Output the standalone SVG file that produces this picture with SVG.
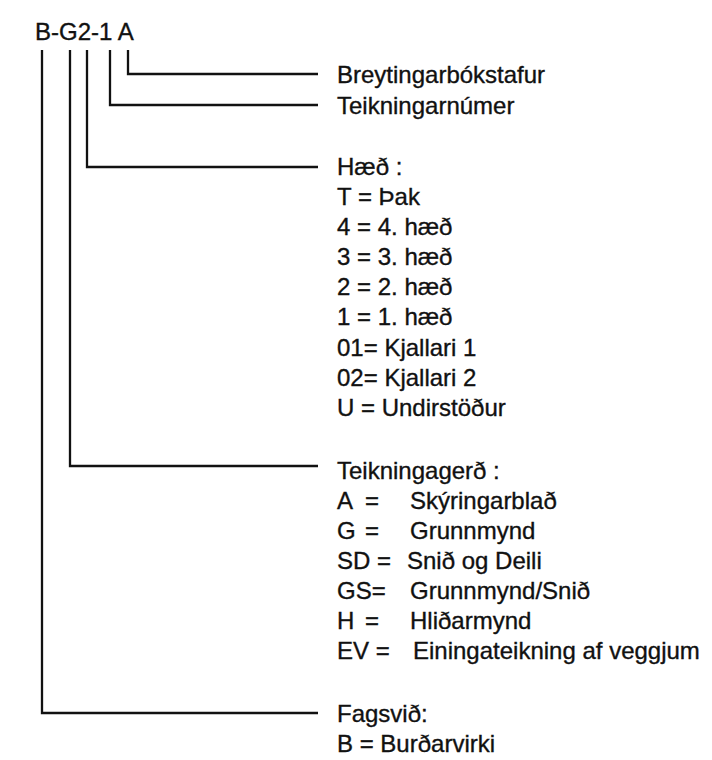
<svg xmlns="http://www.w3.org/2000/svg" width="712" height="760" viewBox="0 0 712 760">
<style>
text{font-family:"Liberation Sans",Arial,sans-serif;font-size:24px;fill:#111;stroke:#111;stroke-width:0.35}
.c{fill:none;stroke:#111;stroke-width:2.3;stroke-linejoin:miter;stroke-linecap:butt}
</style>
<rect width="712" height="760" fill="#fff"/>
<g id="title"><text x="35" y="40">B-G2-1 A</text></g>
<g id="connectors">
<polyline class="c" points="128,50 128,74 318,74"/>
<polyline class="c" points="110,50 110,105 318,105"/>
<polyline class="c" points="87,50 87,167 318,167"/>
<polyline class="c" points="70,50 70,466 318,466"/>
<polyline class="c" points="42,50 42,713 318,713"/>
</g>
<g id="breyting"><text x="337" y="83">Breytingarbókstafur</text></g>
<g id="teikningarnumer"><text x="337" y="114">Teikningarnúmer</text></g>
<g id="haed">
<text x="337" y="175">Hæð :</text>
<text x="337" y="205">T = Þak</text>
<text x="337" y="235">4 = 4. hæð</text>
<text x="337" y="265">3 = 3. hæð</text>
<text x="337" y="295">2 = 2. hæð</text>
<text x="337" y="325">1 = 1. hæð</text>
<text x="337" y="356">01= Kjallari 1</text>
<text x="337" y="386">02= Kjallari 2</text>
<text x="337" y="416">U = Undirstöður</text>
</g>
<g id="teikningagerd">
<text x="337" y="479">Teikningagerð :</text>
<text x="337" y="509">A</text><text x="365" y="509">=</text><text x="410" y="509">Skýringarblað</text>
<text x="337" y="539">G</text><text x="365" y="539">=</text><text x="410" y="539">Grunnmynd</text>
<text x="337" y="569">SD =</text><text x="407" y="569">Snið og Deili</text>
<text x="337" y="599">GS=</text><text x="410" y="599">Grunnmynd/Snið</text>
<text x="337" y="629">H</text><text x="365" y="629">=</text><text x="410" y="629">Hliðarmynd</text>
<text x="337" y="659">EV =</text><text x="413" y="659">Einingateikning af veggjum</text>
</g>
<g id="fagsvid">
<text x="337" y="722">Fagsvið:</text>
<text x="337" y="752">B = Burðarvirki</text>
</g>
</svg>
